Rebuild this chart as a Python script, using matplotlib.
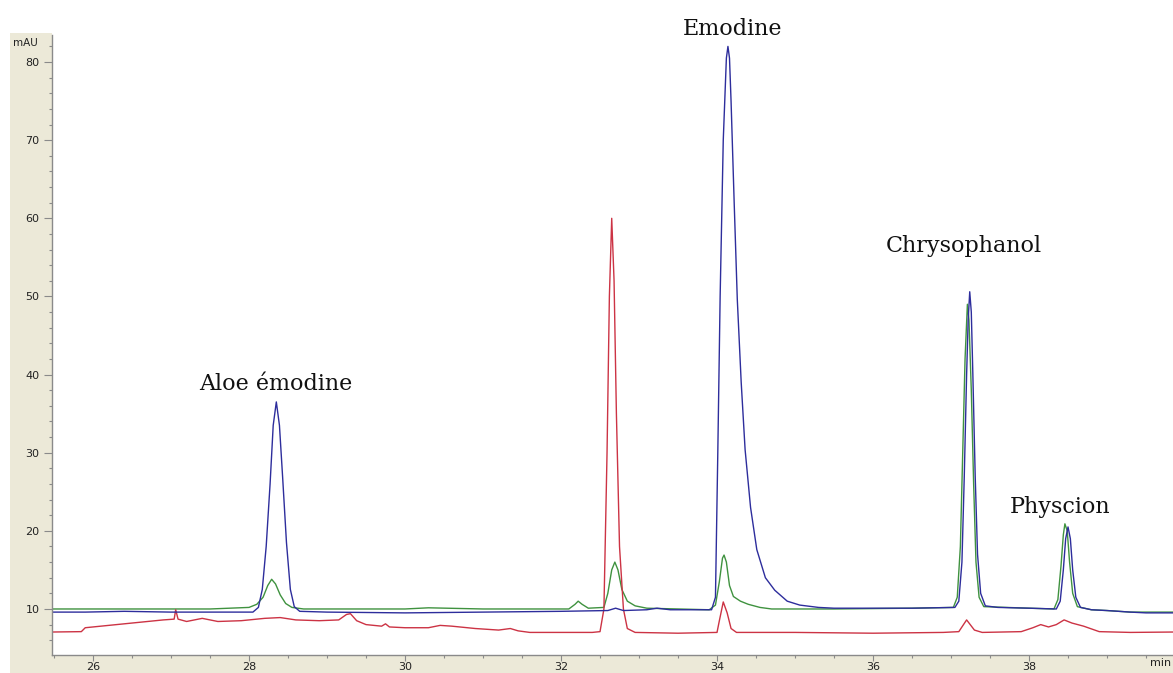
import matplotlib
matplotlib.use('Agg')
import matplotlib.pyplot as plt
from matplotlib.patches import Rectangle
from matplotlib.ticker import MultipleLocator
import numpy as np

# Chromatogramme HPLC - trois detections (temps en min, signal en mAU)
t_bleu = [25.47, 25.9, 26.4, 27.0, 27.5, 28.05, 28.12, 28.17, 28.22, 28.27, 28.31, 28.35,
          28.39, 28.43, 28.48, 28.53, 28.58, 28.65, 29.0, 30.0, 31.0, 32.0, 32.6, 32.7,
          32.8, 33.1, 33.23, 33.4, 33.93, 33.98, 34.01, 34.04, 34.08, 34.12, 34.14, 34.16,
          34.18, 34.22, 34.26, 34.31, 34.36, 34.43, 34.51, 34.62, 34.74, 34.90, 35.06,
          35.3, 35.5, 36.0, 36.5, 37.05, 37.10, 37.14, 37.17, 37.20, 37.22, 37.24, 37.26,
          37.28, 37.31, 37.34, 37.38, 37.44, 37.6, 38.0, 38.35, 38.40, 38.44, 38.47, 38.50,
          38.53, 38.56, 38.60, 38.66, 38.8, 39.0, 39.3, 39.5, 39.85]
y_bleu = [9.6, 9.6, 9.7, 9.6, 9.6, 9.6, 10.2, 12.5, 18.0, 26.0, 33.5, 36.5,
          33.5, 27.0, 18.5, 12.5, 10.3, 9.7, 9.6, 9.5, 9.6, 9.7, 9.8, 10.1,
          9.8, 9.9, 10.1, 9.9, 9.9, 11.5, 30.0, 50.0, 70.0, 80.5, 82.0, 80.5,
          75.0, 62.0, 49.6, 39.0, 30.4, 23.0, 17.6, 14.0, 12.4, 11.0, 10.5,
          10.2, 10.1, 10.1, 10.1, 10.2, 11.0, 16.0, 27.0, 40.0, 47.0, 50.6, 48.0,
          40.0, 27.0, 17.0, 12.0, 10.4, 10.2, 10.1, 10.0, 11.0, 15.0, 19.0, 20.5,
          19.0, 15.0, 11.5, 10.2, 9.9, 9.8, 9.6, 9.5, 9.5]

t_vert = [25.47, 27.5, 28.0, 28.1, 28.18, 28.24, 28.29, 28.34, 28.40, 28.47, 28.55, 28.7,
          29.5, 30.0, 30.3, 31.0, 32.1, 32.18, 32.22, 32.27, 32.35, 32.55, 32.60, 32.65,
          32.69, 32.73, 32.78, 32.85, 32.95, 33.1, 33.9, 33.98, 34.03, 34.07, 34.09, 34.12,
          34.16, 34.21, 34.3, 34.4, 34.55, 34.7, 35.5, 36.5, 37.03, 37.08, 37.12, 37.15,
          37.18, 37.21, 37.23, 37.26, 37.29, 37.32, 37.36, 37.42, 38.0, 38.32, 38.37, 38.41,
          38.44, 38.46, 38.49, 38.52, 38.56, 38.62, 38.8, 39.0, 39.3, 39.5, 39.85]
y_vert = [10.0, 10.0, 10.2, 10.6, 11.5, 13.0, 13.8, 13.2, 11.8, 10.7, 10.2, 10.0,
          10.0, 10.0, 10.15, 10.0, 10.0, 10.6, 11.0, 10.6, 10.1, 10.2, 12.0, 15.0,
          16.0, 15.0, 12.5, 11.0, 10.4, 10.1, 9.9, 10.5, 13.5, 16.5, 16.9, 16.0,
          13.0, 11.6, 11.0, 10.6, 10.2, 10.0, 10.0, 10.1, 10.2, 11.5, 18.0, 30.0,
          42.0, 49.0, 47.0, 38.0, 26.0, 16.0, 11.5, 10.3, 10.1, 10.0, 11.2, 15.5,
          19.5, 20.9, 20.0, 16.0, 12.0, 10.3, 9.9, 9.8, 9.6, 9.6, 9.6]

t_rouge = [25.47, 25.85, 25.9, 26.0, 26.3, 26.6, 26.9, 27.04, 27.06, 27.09, 27.2, 27.4,
           27.6, 27.9, 28.2, 28.4, 28.6, 28.9, 29.15, 29.25, 29.3, 29.38, 29.5, 29.7,
           29.75, 29.8, 30.0, 30.3, 30.45, 30.6, 30.9, 31.2, 31.35, 31.45, 31.6, 32.0,
           32.4, 32.5, 32.55, 32.59, 32.62, 32.65, 32.68, 32.71, 32.75, 32.80, 32.85, 32.95,
           33.5, 34.0, 34.03, 34.08, 34.13, 34.18, 34.25, 35.0, 36.0, 36.9, 37.1, 37.2,
           37.3, 37.4, 37.9, 38.05, 38.15, 38.25, 38.35, 38.45, 38.55, 38.7, 38.9, 39.3, 39.85]
y_rouge = [7.05, 7.1, 7.6, 7.7, 8.0, 8.3, 8.6, 8.7, 9.9, 8.7, 8.4, 8.8,
           8.4, 8.5, 8.8, 8.9, 8.6, 8.5, 8.6, 9.3, 9.4, 8.5, 8.0, 7.8,
           8.1, 7.7, 7.6, 7.6, 7.9, 7.8, 7.5, 7.3, 7.5, 7.2, 7.0, 7.0,
           7.0, 7.1, 10.0, 30.0, 50.0, 60.0, 52.0, 35.0, 18.0, 10.0, 7.5, 7.0,
           6.9, 7.0, 8.5, 10.9, 9.5, 7.5, 7.0, 7.0, 6.9, 7.0, 7.1, 8.6,
           7.3, 7.0, 7.1, 7.6, 8.0, 7.7, 8.0, 8.6, 8.2, 7.8, 7.1, 7.0, 7.05]

# Noms des pics et position des etiquettes (ligne de base du texte)
composes = ['Aloe émodine', 'Emodine', 'Chrysophanol', 'Physcion']
pos_t = [28.346, 34.205, 37.167, 38.397]
pos_y = [38.0, 83.46, 55.7, 22.3]

W, H = 1173, 673
beige = '#ECE9D8'

fig = plt.figure(figsize=(W / 100, H / 100), dpi=100)
fig.patch.set_facecolor('white')

# bandeau beige (style logiciel Chemstation), derriere les axes
fig.patches.append(Rectangle((10 / W, 0), 42 / W, (H - 33) / H, transform=fig.transFigure,
                             facecolor=beige, edgecolor='none', zorder=-2))
fig.patches.append(Rectangle((10 / W, 0), 1 - 10 / W, 18 / H, transform=fig.transFigure,
                             facecolor=beige, edgecolor='none', zorder=-2))

ax = fig.add_axes([52 / W, 18 / H, 1 - 52 / W, (655 - 35) / H])
ax.set_facecolor('white')

ax.plot(t_vert, y_vert, color='#3f923f', lw=1.0)
ax.plot(t_rouge, y_rouge, color='#cc3344', lw=1.0)
ax.plot(t_bleu, y_bleu, color='#2d2d9c', lw=1.0)

ax.set_xlim(25.474, 39.846)
ax.set_ylim(4.11, 83.46)

ax.xaxis.set_major_locator(MultipleLocator(2))
ax.xaxis.set_minor_locator(MultipleLocator(0.5))
ax.yaxis.set_minor_locator(MultipleLocator(2))
ax.set_yticks([10, 20, 30, 40, 50, 60, 70, 80])

for s in ['top', 'right']:
    ax.spines[s].set_visible(False)
for s in ['left', 'bottom']:
    ax.spines[s].set_color('#8a8a8a')
    ax.spines[s].set_linewidth(1.0)

ax.tick_params(which='major', direction='out', width=0.8, color='#8a8a8a',
               labelsize=8, labelcolor='#222222')
ax.tick_params(axis='y', which='major', length=6, pad=3)
ax.tick_params(axis='x', which='major', length=4, pad=1)
ax.tick_params(which='minor', direction='out', length=2.5, width=0.8, color='#8a8a8a')

fig.text(25 / W, 1 - 43 / H, 'mAU', fontsize=7.5, color='#222222', ha='center', va='center')
fig.text(1150 / W, 1 - 663 / H, 'min', fontsize=8, color='#222222', ha='left', va='center')

for nom, tx, ty in zip(composes, pos_t, pos_y):
    ax.text(tx, ty, nom, fontsize=16, family='DejaVu Serif', color='#111111',
            ha='center', va='baseline', clip_on=False)

fig.savefig('out.png', dpi=100, facecolor='white')
